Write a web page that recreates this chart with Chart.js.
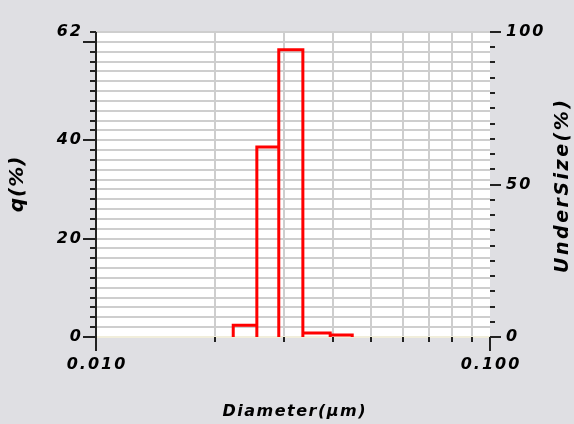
<!DOCTYPE html>
<html>
<head>
<meta charset="utf-8">
<script src="https://cdn.jsdelivr.net/npm/chart.js@4.4.0/dist/chart.umd.min.js"></script>
<style>
  body { margin: 0; background: #dfdfe3; }
  canvas { display: block; }
</style>
</head>
<body>
<canvas id="psdChart" width="574" height="424"></canvas>
<script>
// particle size distribution
const binEdges = [0.0223, 0.0256, 0.0291, 0.0335, 0.0393, 0.0447];
const qValues = [2.4, 38.6, 58.4, 0.8, 0.4];

const qMax = 62;
const qStep = 2;
const qMajorTicks = [0, 20, 40, 60];
const qLabelTicks = [0, 20, 40, 62];

const underSizeMax = 100;
const underSizeStep = 5;
const underSizeMajorTicks = [0, 50, 100];
const underSizeLabelTicks = [0, 50, 100];

const diameterGridTicks = [0.01, 0.02, 0.03, 0.04, 0.05, 0.06, 0.07, 0.08, 0.09, 0.1];
const diameterLabelTicks = [0.01, 0.1];
const diameterLabels = ['0.010', '0.100'];

const bgColor = '#dfdfe3';
const gridColor = '#cecece';
const inkColor = '#222222';

// histogram outline: each bin drawn as an open box standing on zero
const outline = [];
binEdges.slice(0, -1).forEach((edge, i) => {
  outline.push({ x: edge, y: 0 }, { x: edge, y: qValues[i] },
               { x: binEdges[i + 1], y: qValues[i] }, { x: binEdges[i + 1], y: 0 });
});

function stepTicks(max, step) {
  const out = [];
  for (let v = 0; v <= max + 1e-9; v += step) out.push({ value: v });
  return out;
}

function drawText(ctx, text, x, y, size, spacing, align, rotate) {
  ctx.save();
  ctx.font = 'italic bold ' + size + 'px "DejaVu Sans"';
  ctx.letterSpacing = spacing + 'px';
  ctx.textBaseline = 'middle';
  ctx.textAlign = 'left';
  ctx.fillStyle = '#000';
  const w = ctx.measureText(text).width - spacing;
  ctx.translate(x, y);
  if (rotate) ctx.rotate(-Math.PI / 2);
  let dx = 0;
  if (align === 'center') dx = -w / 2;
  if (align === 'right') dx = -w;
  ctx.fillText(text, dx, 0);
  ctx.restore();
}

const framePlugin = {
  id: 'frame',
  beforeDraw(chart) {
    const { ctx, chartArea: a } = chart;
    ctx.save();
    ctx.fillStyle = bgColor;
    ctx.fillRect(0, 0, chart.width, chart.height);
    ctx.fillStyle = '#ffffff';
    ctx.fillRect(a.left, a.top, a.right - a.left, a.bottom - a.top);
    ctx.restore();
  },
  afterDraw(chart) {
    const { ctx, chartArea: a } = chart;
    const xs = chart.scales.x, ys = chart.scales.y, y2 = chart.scales.y2;
    ctx.save();
    ctx.strokeStyle = inkColor;
    ctx.lineWidth = 2;
    ctx.beginPath();
    // left axis line
    ctx.moveTo(a.left, a.top);
    ctx.lineTo(a.left, a.bottom + 1);
    // left ticks
    stepTicks(qMax, qStep).forEach(t => {
      const py = Math.round(ys.getPixelForValue(t.value));
      const len = qMajorTicks.includes(t.value) ? 13 : 6;
      ctx.moveTo(a.left - len, py);
      ctx.lineTo(a.left, py);
    });
    // right ticks
    stepTicks(underSizeMax, underSizeStep).forEach(t => {
      const py = Math.round(y2.getPixelForValue(t.value));
      const len = underSizeMajorTicks.includes(t.value) ? 11 : 5;
      ctx.moveTo(a.right, py);
      ctx.lineTo(a.right + len, py);
    });
    // bottom ticks
    diameterGridTicks.forEach(v => {
      const px = Math.round(xs.getPixelForValue(v));
      const len = diameterLabelTicks.includes(v) ? 14 : 5;
      ctx.moveTo(px, a.bottom);
      ctx.lineTo(px, a.bottom + len);
    });
    ctx.stroke();
    ctx.restore();

    qLabelTicks.forEach(v => {
      drawText(ctx, String(v), a.left - 15, ys.getPixelForValue(v), 16, 2, 'right');
    });
    underSizeLabelTicks.forEach(v => {
      drawText(ctx, String(v), a.right + 16, y2.getPixelForValue(v), 16, 2, 'left');
    });
    diameterLabelTicks.forEach((v, i) => {
      drawText(ctx, diameterLabels[i], xs.getPixelForValue(v), a.bottom + 28, 16, 2, 'center');
    });

    drawText(ctx, 'Diameter(\u03bcm)', 294, 412, 16, 1.5, 'center');
    drawText(ctx, 'q(%)', 18, (a.top + a.bottom) / 2, 20, 1, 'center', true);
    drawText(ctx, 'UnderSize(%)', 563, (a.top + a.bottom) / 2 + 2, 19, 2.5, 'center', true);
  }
};

new Chart(document.getElementById('psdChart'), {
  type: 'line',
  data: {
    datasets: [{
      label: 'q(%)',
      data: outline,
      borderColor: '#ff0000',
      borderWidth: 3,
      borderJoinStyle: 'miter',
      pointRadius: 0,
      fill: false,
      tension: 0,
      yAxisID: 'y'
    }]
  },
  options: {
    responsive: false,
    animation: false,
    events: [],
    layout: { padding: { top: 32, left: 0, right: 0, bottom: 0 } },
    plugins: { legend: { display: false }, tooltip: { enabled: false } },
    scales: {
      x: {
        type: 'logarithmic',
        min: 0.01,
        max: 0.1,
        afterBuildTicks: s => { s.ticks = diameterGridTicks.map(v => ({ value: v })); },
        afterFit: s => { s.height = 87; },
        ticks: { display: false },
        border: { display: false },
        grid: {
          drawTicks: false,
          lineWidth: 2,
          color: c => (c.tick && (c.tick.value === 0.01 || c.tick.value === 0.1)) ? 'rgba(0,0,0,0)' : gridColor
        }
      },
      y: {
        position: 'left',
        min: 0,
        max: qMax,
        afterBuildTicks: s => { s.ticks = stepTicks(qMax, qStep); },
        afterFit: s => { s.width = 96; },
        ticks: { display: false },
        border: { display: false },
        grid: {
          drawTicks: false,
          lineWidth: 2,
          color: c => (c.tick && c.tick.value === 0) ? '#f1eedb' : gridColor
        }
      },
      y2: {
        position: 'right',
        min: 0,
        max: underSizeMax,
        afterBuildTicks: s => { s.ticks = stepTicks(underSizeMax, underSizeStep); },
        afterFit: s => { s.width = 84; },
        ticks: { display: false },
        border: { display: false },
        grid: { display: false }
      }
    }
  },
  plugins: [framePlugin]
});
</script>
</body>
</html>
